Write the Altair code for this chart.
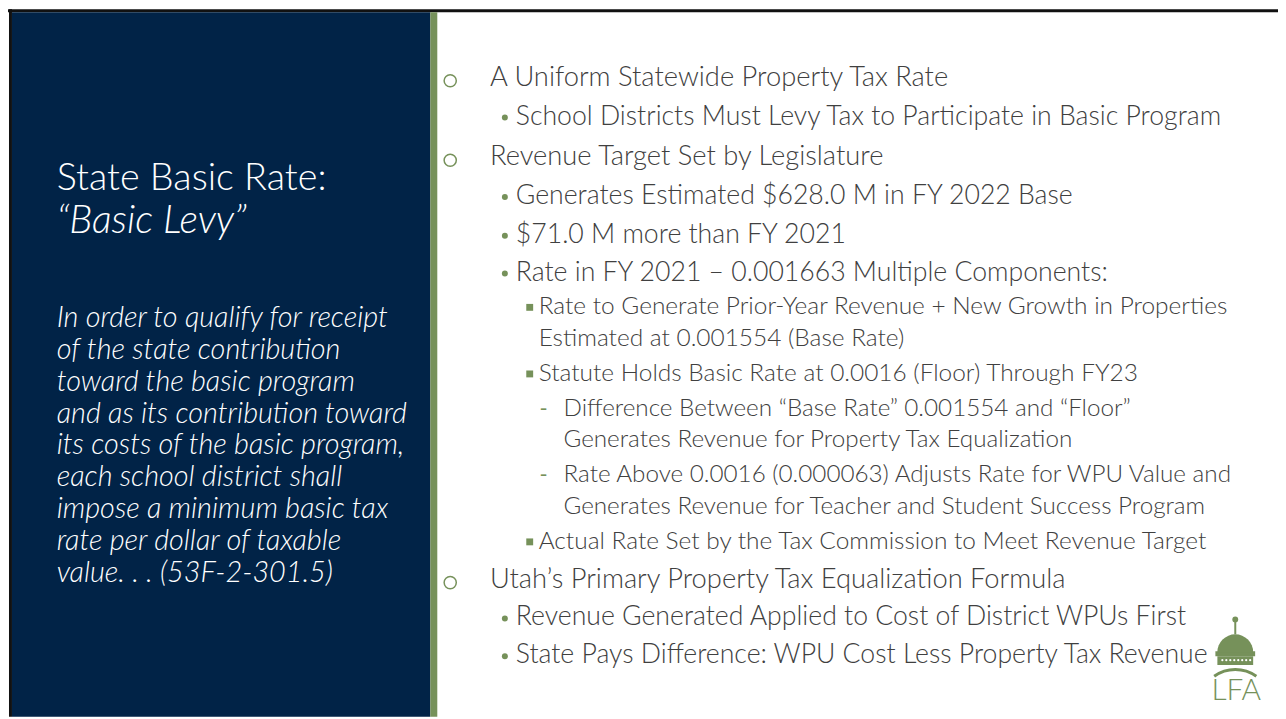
import altair as alt
import pandas as pd
import math

# ---------------- content ----------------
title_lines = ["State Basic Rate:", "“Basic Levy”"]
quote_lines = [
    "In order to qualify for receipt",
    "of the state contribution",
    "toward the basic program",
    "and as its contribution toward",
    "its costs of the basic program,",
    "each school district shall",
    "impose a minimum basic tax",
    "rate per dollar of taxable",
    "value. . . (53F-2-301.5)",
]
# outline level of each line and whether it continues the previous bullet
outline_levels = [0, 1, 0, 1, 1, 1, 2, 2, 2, 3, 3, 3, 3, 2, 0, 1, 1]
outline_cont = [0, 0, 0, 0, 0, 0, 0, 1, 0, 0, 1, 0, 1, 0, 0, 0, 0]
outline_text = [
    "A Uniform Statewide Property Tax Rate",
    "School Districts Must Levy Tax to Participate in Basic Program",
    "Revenue Target Set by Legislature",
    "Generates Estimated $628.0 M in FY 2022 Base",
    "$71.0 M more than FY 2021",
    "Rate in FY 2021 – 0.001663 Multiple Components:",
    "Rate to Generate Prior-Year Revenue + New Growth in Properties",
    "Estimated at 0.001554 (Base Rate)",
    "Statute Holds Basic Rate at 0.0016 (Floor) Through FY23",
    "Difference Between “Base Rate” 0.001554 and “Floor”",
    "Generates Revenue for Property Tax Equalization",
    "Rate Above 0.0016 (0.000063) Adjusts Rate for WPU Value and",
    "Generates Revenue for Teacher and Student Success Program",
    "Actual Rate Set by the Tax Commission to Meet Revenue Target",
    "Utah’s Primary Property Tax Equalization Formula",
    "Revenue Generated Applied to Cost of District WPUs First",
    "State Pays Difference: WPU Cost Less Property Tax Revenue",
]

# ---------------- layout ----------------
W, H = 1286, 719
NAVY = "#012347"
GREEN = "#76915a"
GREY = "#404040"
FONT = "Lato"

row_y = [76, 115, 156, 195, 234, 272, 307, 339, 374, 409, 441, 476, 508, 543, 581, 619, 657]
bullet_x = {0: 453, 1: 508, 2: 533, 3: 547}
bullet_dy = {0: 3, 1: 1, 2: 0, 3: 0}
text_x = {0: 493, 1: 519, 2: 542, 3: 567}
font_size = {0: 27.5, 1: 26.8, 2: 24.6, 3: 24.4}

xs = alt.Scale(domain=[0, W], range=[-8, W - 8])
ys = alt.Scale(domain=[0, H], range=[-8, H - 8])


def X(f):
    return alt.X(f, type="quantitative", scale=xs, axis=None)


def Y(f):
    return alt.Y(f, type="quantitative", scale=ys, axis=None)


shapes = pd.DataFrame({
    "x": [0, 9, 12, 433],
    "x2": [W, 12, 433, 440],
    "y": [7, 7, 10, 10],
    "y2": [10, H, H, H],
    "c": ["#111111", "#111111", NAVY, GREEN],
})
bg = alt.Chart(shapes).mark_rect().encode(
    x=X("x"), x2="x2", y=Y("y"), y2="y2",
    color=alt.Color("c:N", scale=None),
)

title_df = pd.DataFrame({"t": title_lines, "x": [57, 57], "y": [178, 220],
                         "st": ["normal", "italic"]})
title_n = alt.Chart(title_df).transform_filter("datum.st == 'normal'").mark_text(
    align="left", baseline="middle", font=FONT, fontSize=38, color="white", fontWeight=300
).encode(x=X("x"), y=Y("y"), text="t:N")
title_i = alt.Chart(title_df).transform_filter("datum.st == 'italic'").mark_text(
    align="left", baseline="middle", font=FONT, fontSize=39.5, color="white",
    fontStyle="italic", fontWeight=300
).encode(x=X("x"), y=Y("y"), text="t:N")

quote_df = pd.DataFrame({"t": quote_lines, "i": list(range(len(quote_lines)))})
quote = alt.Chart(quote_df).transform_calculate(
    x="57", y="318 + datum.i * 32"
).mark_text(
    align="left", baseline="middle", font=FONT, fontSize=29, color="white",
    fontStyle="italic", fontWeight=300
).encode(x=X("x:Q"), y=Y("y:Q"), text="t:N")

rows = []
for lvl, cont, txt, yy in zip(outline_levels, outline_cont, outline_text, row_y):
    rows.append({"t": txt, "lvl": lvl, "cont": cont, "y": yy,
                 "tx": text_x[lvl], "bx": bullet_x[lvl], "by": yy + bullet_dy[lvl],
                 "fs": font_size[lvl]})
odf = pd.DataFrame(rows)

otext = alt.Chart(odf).mark_text(
    align="left", baseline="middle", font=FONT, color=GREY, fontWeight=300
).encode(x=X("tx"), y=Y("y"), text="t:N", size=alt.Size("fs:Q", scale=None))

bul = alt.Chart(odf).transform_filter("datum.cont == 0")
b0 = bul.transform_filter("datum.lvl == 0").mark_point(
    shape="circle", filled=False, color=GREEN, size=150, strokeWidth=1.5, opacity=1
).encode(x=X("bx"), y=Y("by"))
b1 = bul.transform_filter("datum.lvl == 1").mark_point(
    shape="circle", filled=True, color=GREEN, size=36, opacity=1
).encode(x=X("bx"), y=Y("by"))
b2 = bul.transform_filter("datum.lvl == 2").mark_point(
    shape="square", filled=True, color=GREEN, size=48, opacity=1
).encode(x=X("bx"), y=Y("by"))
b3 = bul.transform_filter("datum.lvl == 3").mark_text(
    text="-", align="center", baseline="middle", font=FONT, fontSize=22, color=GREEN
).encode(x=X("bx"), y=Y("by"))

# ---------------- LFA logo ----------------
logo_rect = pd.DataFrame({
    "x": [1242, 1223, 1225],
    "x2": [1244, 1263, 1261],
    "y": [620, 653, 658],
    "y2": [636, 658, 667],
})
lr = alt.Chart(logo_rect).mark_rect(color=GREEN).encode(
    x=X("x"), x2="x2", y=Y("y"), y2="y2")
logo_pt = pd.DataFrame({"x": [1243], "y": [621]})
lp = alt.Chart(logo_pt).mark_point(filled=True, color=GREEN, size=35, opacity=1).encode(
    x=X("x"), y=Y("y"))
dome_df = pd.DataFrame({"x": [1243], "y": [654]})
dome = alt.Chart(dome_df).mark_arc(
    color=GREEN, radius=18, theta=3 * math.pi / 2, theta2=5 * math.pi / 2
).encode(x=X("x"), y=Y("y"))
dots_df = pd.DataFrame({"x": [1230, 1234, 1238, 1242, 1246, 1250, 1254, 1258],
                        "y": [662] * 8})
dots = alt.Chart(dots_df).mark_point(filled=True, color="white", size=5, opacity=1).encode(
    x=X("x"), y=Y("y"))
arch_df = pd.DataFrame({"x": [1243], "y": [708]})
arch = alt.Chart(arch_df).mark_arc(
    color=GREEN, radius=38, radius2=35, theta=2 * math.pi - 0.62, theta2=2 * math.pi + 0.62
).encode(x=X("x"), y=Y("y"))
lfa_df = pd.DataFrame({"t": ["LFA"], "x": [1244], "y": [693]})
lfa = alt.Chart(lfa_df).mark_text(
    align="center", baseline="middle", font=FONT, fontSize=30, color=GREEN, fontWeight=300
).encode(x=X("x"), y=Y("y"), text="t:N")

chart = alt.layer(
    bg, title_n, title_i, quote, otext, b0, b1, b2, b3, lr, lp, dome, dots, arch, lfa
).properties(
    width=W - 8, height=H - 8, padding=0, autosize=alt.AutoSizeParams(type="none"),
    background="white",
).configure_view(stroke=None)

chart.save("out.html", embed_options={"renderer": "svg", "actions": False})
